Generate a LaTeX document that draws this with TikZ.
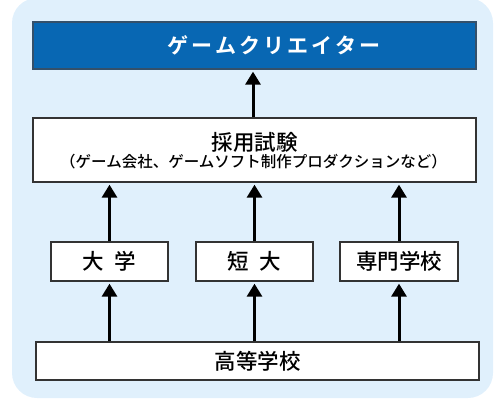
\documentclass[tikz,border=0pt]{standalone}
\usepackage{fontspec}
\setmainfont{Noto Sans CJK JP Medium}
\newfontfamily\jpbold[LetterSpace=15]{Noto Sans CJK JP Bold}
\usetikzlibrary{arrows.meta}
\definecolor{bgblue}{HTML}{E0F0FC}
\definecolor{topblue}{HTML}{0867B3}
\definecolor{topedge}{HTML}{34506A}
\definecolor{boxedge}{HTML}{333333}
\tikzset{
  box/.style={draw=boxedge, line width=1.3pt, fill=white, inner sep=0pt, anchor=center},
  arr/.style={line width=3pt, -{Triangle[width=15pt,length=13pt]}, shorten >=2pt},
  big/.style={font=\fontsize{21.5}{24}\selectfont},
}
\begin{document}
\begin{tikzpicture}[x=1pt,y=-1pt]
\useasboundingbox (0,0) rectangle (500,400);
\fill[bgblue, rounded corners=25pt] (12,-2) rectangle (493,398);
\node[box, fill=topblue, draw=topedge, minimum width=443pt, minimum height=47pt] (creator) at (254.5,45.5) {};
\node[text=white, font=\jpbold\fontsize{21}{24}\selectfont] (creatortext) at (274,45) {ゲームクリエイター};
\node[box, minimum width=443pt, minimum height=64pt] (exam) at (254.5,150) {};
\node[big] (examtitle) at (254.5,142) {採用試験};
\node[font=\fontsize{15.5}{18}\selectfont] (examsub) at (253.5,162) {（ゲーム会社、ゲームソフト制作プロダクションなど）};
\node[box, big, minimum width=117pt, minimum height=39pt] (univ) at (109.5,261.5) {大\hspace{0.5em}学};
\node[box, big, minimum width=117pt, minimum height=39pt] (junior) at (254.5,261.5) {短\hspace{0.5em}大};
\node[box, big, minimum width=118pt, minimum height=39pt] (voc) at (399,261.5) {専門学校};
\node[box, big, minimum width=443pt, minimum height=38pt] (high) at (257.5,361) {高等学校};
\draw[arr] (exam.north -| 253,0) -- (creator.south -| 253,0);
\draw[arr] (univ.north) -- (univ.north |- exam.south);
\draw[arr] (junior.north) -- (junior.north |- exam.south);
\draw[arr] (voc.north) -- (voc.north |- exam.south);
\draw[arr] (univ.south |- high.north) -- (univ.south);
\draw[arr] (junior.south |- high.north) -- (junior.south);
\draw[arr] (voc.south |- high.north) -- (voc.south);
\end{tikzpicture}
\end{document}
